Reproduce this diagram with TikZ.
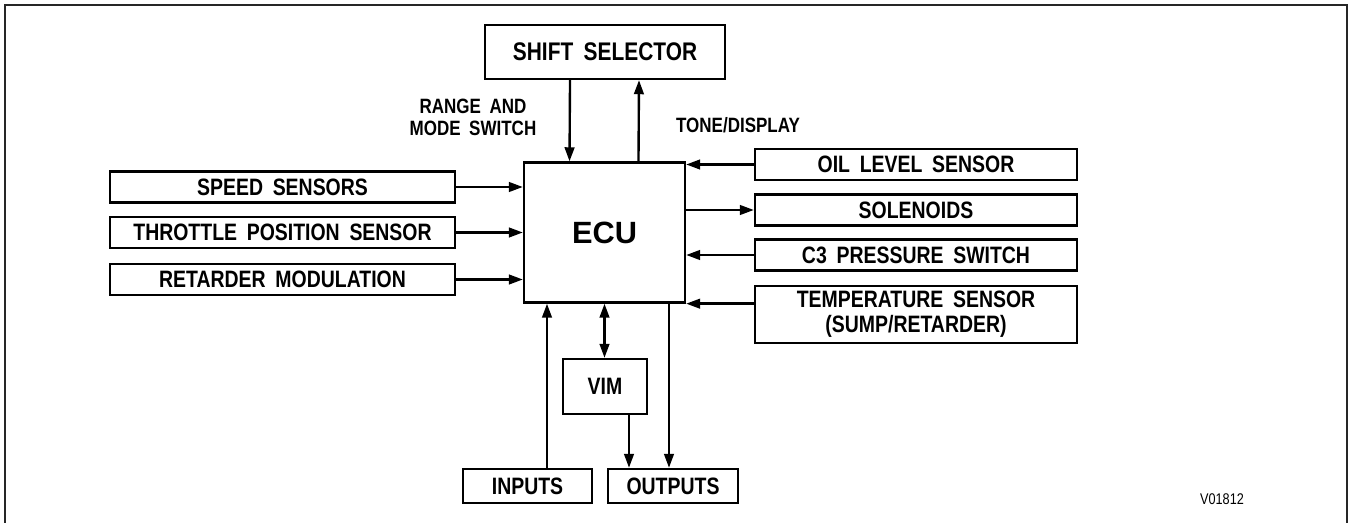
\documentclass[tikz,border=0pt]{standalone}
\usepackage{fontspec}
\setmainfont{Liberation Sans}[FakeStretch=0.82, WordSpace=1.8]
\newfontfamily\ecufont{Liberation Sans}
\usetikzlibrary{arrows.meta}

\begin{document}
\begin{tikzpicture}[x=0.02cm, y=-0.02cm,
  blk/.style={draw, line width=1.35pt, inner sep=0pt, align=center,
    font=\fontsize{13.5}{14.2}\selectfont\bfseries},
  arr/.style={-{Triangle[length=8pt,width=5.5pt]}, line width=1.35pt},
  dbl/.style={{Triangle[length=8pt,width=5.5pt]}-{Triangle[length=8pt,width=5.5pt]}, line width=1.35pt},
  lbl/.style={align=center, font=\fontsize{11.8}{12.5}\selectfont\bfseries}]

% Page: 1349 x 523 px, 1 px = 0.02 cm, y runs downwards
\useasboundingbox (0,0) rectangle (1349,523);

% ── Frame ────────────────────────────────────────────────────────────────────
\draw[line width=1.35pt, black!85] (5,530) -- (5,5) -- (1347,5) -- (1347,530);

% ── Blocks ───────────────────────────────────────────────────────────────────
\node[blk, minimum width=4.8cm, minimum height=1.08cm,
  font=\fontsize{14.5}{15}\selectfont\bfseries] (shift) at (605,52) {SHIFT SELECTOR};

\node[blk, minimum width=3.22cm, minimum height=2.8cm,
  font=\ecufont\fontsize{17.5}{20}\selectfont\bfseries] (ecu) at (604.5,232.5) {ECU};

% left inputs
\node[blk, minimum width=6.9cm, minimum height=0.62cm] (speed)    at (282.5,187)   {SPEED SENSORS};
\node[blk, minimum width=6.9cm, minimum height=0.62cm] (throttle) at (282.5,232.5) {THROTTLE POSITION SENSOR};
\node[blk, minimum width=6.9cm, minimum height=0.62cm] (retarder) at (282.5,279.5) {RETARDER MODULATION};

% right side
\node[blk, minimum width=6.44cm, minimum height=0.62cm] (oil)       at (916,164.5) {OIL LEVEL SENSOR};
\node[blk, minimum width=6.44cm, minimum height=0.62cm] (solenoids) at (916,210)   {SOLENOIDS};
\node[blk, minimum width=6.44cm, minimum height=0.62cm] (c3)        at (916,255)   {C3 PRESSURE SWITCH};
\node[blk, minimum width=6.44cm, minimum height=1.14cm] (temp)      at (916,314.5) {TEMPERATURE SENSOR\\(SUMP/RETARDER)};

% bottom
\node[blk, minimum width=1.68cm, minimum height=1.1cm]  (vim)     at (605,386.5) {VIM};
\node[blk, minimum width=2.58cm, minimum height=0.68cm] (inputs)  at (527.5,486) {INPUTS};
\node[blk, minimum width=2.6cm,  minimum height=0.68cm] (outputs) at (673,486)   {OUTPUTS};

% ── Labels ───────────────────────────────────────────────────────────────────
\node[lbl] (rangelbl) at (473,117) {RANGE AND\\MODE SWITCH};
\node[lbl] (tonelbl)  at (738,125) {TONE/DISPLAY};
\node[font=\fontsize{8.8}{10}\selectfont] (figno) at (1222,499) {V01812};

% ── Connectors ───────────────────────────────────────────────────────────────
% shift selector <-> ECU
\draw[arr] ([xshift=-0.7cm]shift.south) -- ([xshift=-0.7cm]ecu.north);
\draw[arr] ([xshift=0.68cm]ecu.north) -- ([xshift=0.68cm]shift.south);

% inputs on the left
\foreach \src in {speed, throttle, retarder}
  \draw[arr] (\src.east) -- (\src.east -| ecu.west);

% right side
\draw[arr] (oil.west) -- (oil.west -| ecu.east);
\draw[arr] (ecu.east |- solenoids.west) -- (solenoids.west);
\draw[arr] (c3.west) -- (c3.west -| ecu.east);
\draw[arr] (temp.west |- ecu.south east) -- (ecu.south east);

% bottom
\draw[arr] ([xshift=0.39cm]inputs.north) -- ([xshift=0.39cm]inputs.north |- ecu.south);
\draw[dbl] (ecu.south) -- (ecu.south |- vim.north);
\draw[arr] ([xshift=0.48cm]vim.south) -- ([xshift=0.48cm]vim.south |- outputs.north);
\draw[arr] ([xshift=1.29cm]ecu.south) -- ([xshift=1.29cm]ecu.south |- outputs.north);

\end{tikzpicture}
\end{document}
